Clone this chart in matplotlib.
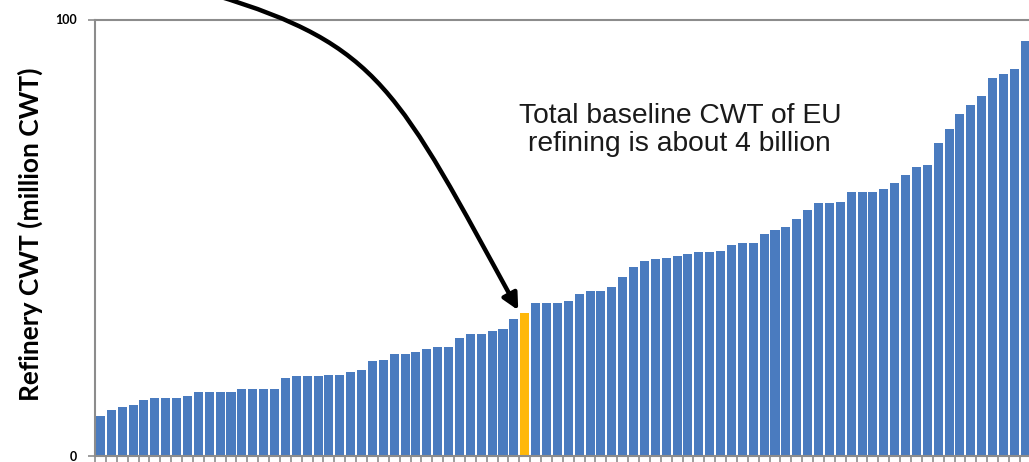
import numpy as np
import matplotlib
matplotlib.use("Agg")
import matplotlib.pyplot as plt
from matplotlib.patches import FancyArrowPatch
from matplotlib.path import Path

# Refinery CWT, sorted ascending (million CWT)
cwt = [9.2, 10.5, 11.2, 11.6, 12.9, 13.4, 13.4, 13.4, 13.7, 14.6,
       14.6, 14.6, 14.6, 15.3, 15.3, 15.3, 15.3, 17.9, 18.3, 18.3,
       18.3, 18.6, 18.6, 19.2, 19.6, 21.7, 22.1, 23.4, 23.4, 23.8,
       24.6, 25.0, 25.0, 27.1, 27.9, 27.9, 28.7, 29.2, 31.3, 32.8,
       35.1, 35.1, 35.1, 35.4, 37.0, 37.9, 37.9, 38.8, 40.9, 43.4,
       44.6, 45.1, 45.4, 45.9, 46.3, 46.8, 46.7, 47.0, 48.3, 48.8,
       48.8, 50.9, 51.7, 52.5, 54.2, 56.3, 58.0, 58.0, 58.3, 60.4,
       60.4, 60.4, 61.2, 62.6, 64.3, 66.3, 66.7, 71.6, 75.0, 78.4,
       80.3, 82.5, 86.7, 87.6, 88.7, 95.1]
highlight = 39          # the refinery picked out in orange
yticks = [0, 100]
ylabel = "Refinery CWT (million CWT)"
note = "Total baseline CWT of EU\nrefining is about 4 billion"

blue = "#4a7bbf"
orange = "#ffb80a"
axis_grey = "#8c8c8c"

fig = plt.figure(figsize=(10.29, 4.62), dpi=100)
ax = fig.add_axes([95 / 1029, 6 / 462, 935.7 / 1029, 436.5 / 462])

x = np.arange(len(cwt))
colors = [orange if i == highlight else blue for i in x]
ax.bar(x, cwt, width=0.83, color=colors, linewidth=0, zorder=2)

ax.set_xlim(-0.5, len(cwt) - 0.5)
ax.set_ylim(0, 100)

# spines: left, bottom and top (gridline at 100) in grey
for side in ["left", "bottom", "top"]:
    ax.spines[side].set_color(axis_grey)
    ax.spines[side].set_linewidth(1.5)
ax.spines["right"].set_visible(False)

ax.set_yticks(yticks)
ax.set_yticklabels([str(v) for v in yticks], fontsize=9, fontweight="bold",
                   family="Lato")
ax.tick_params(axis="y", length=5, width=1.2, color=axis_grey, pad=8)

# category boundary ticks on the x axis
ax.set_xticks([])
ax.set_xticks(np.arange(-0.5, len(cwt)), minor=True)
ax.tick_params(axis="x", which="minor", length=4, width=1.2, color=axis_grey)

ax.set_ylabel(ylabel, fontsize=19, fontweight="bold", family="Lato",
              va="center")
ax.yaxis.set_label_coords(-0.0695, 0.507)

ax.text(0.625, 0.747, note, transform=ax.transAxes, ha="center", va="center",
        fontsize=20.3, family="Liberation Sans", color="#1a1a1a",
        linespacing=1.1)

# curved arrow coming in from above the plot, pointing at the orange bar
arrow_path = Path([(10.5, 105.6), (25.7, 94.2), (27.3, 83.9),
                   (highlight - 0.6, cwt[highlight] + 0.6)],
                  [Path.MOVETO, Path.CURVE4, Path.CURVE4, Path.CURVE4])
arrow = FancyArrowPatch(path=arrow_path, arrowstyle="-|>", color="black",
                        lw=3.2, mutation_scale=24, transform=ax.transData,
                        clip_on=False, zorder=5)
ax.add_patch(arrow)

fig.savefig("out.png", dpi=100)
